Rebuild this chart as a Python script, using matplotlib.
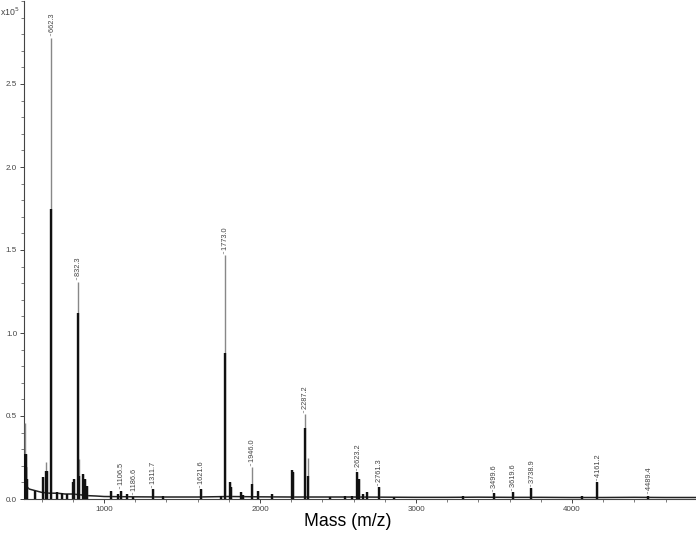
import matplotlib
matplotlib.use("Agg")
import matplotlib.pyplot as plt
from matplotlib.ticker import MultipleLocator, FixedLocator

# ---- data (intensity in units of 1e5 counts) ----
peak_mz = [493, 497, 503, 508, 558, 611, 628, 637, 662.3, 700, 730, 760,
           799, 808, 832.3, 838, 867, 880, 888, 1045, 1090, 1106.5, 1148,
           1186.6, 1311.7, 1380, 1621.6, 1752, 1773.0, 1808, 1814, 1876, 1890,
           1946.0, 1990, 2080, 2205, 2210, 2287.2, 2305, 2450, 2545, 2590,
           2623.2, 2635, 2660, 2686, 2761.3, 2860, 3300, 3499.6, 3619.6,
           3738.9, 4064, 4161.2, 4489.4]
peak_top = [0.46, 0.27, 0.19, 0.12, 0.05, 0.13, 0.22, 0.17, 2.78, 0.04, 0.035, 0.03,
            0.10, 0.12, 1.31, 0.24, 0.15, 0.12, 0.08, 0.05, 0.03, 0.05, 0.03,
            0.015, 0.06, 0.02, 0.06, 0.02, 1.47, 0.10, 0.07, 0.04, 0.025,
            0.19, 0.05, 0.03, 0.175, 0.16, 0.51, 0.25, 0.015, 0.02, 0.02,
            0.16, 0.12, 0.03, 0.04, 0.07, 0.015, 0.02, 0.035, 0.04,
            0.065, 0.02, 0.10, 0.02]
peak_core = [0.27, 0.27, 0.19, 0.12, 0.05, 0.13, 0.17, 0.17, 1.75, 0.04, 0.035, 0.03,
             0.10, 0.12, 1.12, 0.14, 0.15, 0.12, 0.08, 0.05, 0.03, 0.05, 0.03,
             0.015, 0.06, 0.02, 0.06, 0.02, 0.88, 0.10, 0.07, 0.04, 0.025,
             0.09, 0.05, 0.03, 0.175, 0.16, 0.43, 0.14, 0.015, 0.02, 0.02,
             0.16, 0.12, 0.03, 0.04, 0.07, 0.015, 0.02, 0.035, 0.04,
             0.065, 0.02, 0.10, 0.02]

base_mz = [490, 520, 560, 600, 650, 700, 750, 800, 850, 900, 950, 1000, 1100,
           1200, 1400, 1600, 1800, 2000, 2200, 2400, 2600, 2800, 3000, 3200,
           3400, 3600, 3800, 4000, 4200, 4400, 4600, 4800]
base_int = [0.09, 0.06, 0.05, 0.04, 0.035, 0.035, 0.03, 0.03, 0.025, 0.02, 0.018,
            0.015, 0.014, 0.013, 0.012, 0.012, 0.015, 0.013, 0.012, 0.012, 0.012,
            0.011, 0.010, 0.010, 0.011, 0.010, 0.010, 0.009, 0.009, 0.010,
            0.009, 0.009]

label_mz = [662.3, 832.3, 1106.5, 1186.6, 1311.7, 1621.6, 1773.0, 1946.0,
            2287.2, 2623.2, 2761.3, 3499.6, 3619.6, 3738.9, 4161.2, 4489.4]
label_txt = ["662.3", "832.3", "1106.5", "1186.6", "1311.7", "1621.6", "1773.0",
             "1946.0", "2287.2", "2623.2", "2761.3", "3499.6", "3619.6",
             "3738.9", "4161.2", "4489.4"]

x_ticks = [1000, 2000, 3000, 4000]
y_ticks = [0.0, 0.5, 1.0, 1.5, 2.0, 2.5]

plt.rcParams['font.family'] = ['Liberation Sans', 'DejaVu Sans']

fig = plt.figure(figsize=(6.96, 5.39), dpi=100)
ax = fig.add_axes([24/696, 1 - 499/539, 1 - 24/696, 498/539])

ax.plot(base_mz, base_int, color='#222222', lw=1.1, zorder=2)
ax.vlines(peak_mz, 0, peak_top, colors='#888888', lw=1.0, zorder=3)
ax.vlines(peak_mz, 0, peak_core, colors='#111111', lw=1.7, zorder=4)

top_lookup = dict(zip(peak_mz, peak_top))
for m, t in zip(label_mz, label_txt):
    ax.annotate('··' + t, xy=(m, top_lookup[m]), xytext=(0, 1),
                textcoords='offset points', rotation=90, ha='center',
                va='bottom', fontsize=5.3, color='#444444')

ax.set_xlim(487, 4795)
ax.set_ylim(0, 3.0)
ax.xaxis.set_major_locator(FixedLocator(x_ticks))
ax.xaxis.set_minor_locator(MultipleLocator(200))
ax.yaxis.set_major_locator(FixedLocator(y_ticks))
ax.yaxis.set_minor_locator(MultipleLocator(0.1))
ax.set_xticklabels([str(v) for v in x_ticks])
ax.set_yticklabels(["%.1f" % v for v in y_ticks])
ax.tick_params(axis='both', which='major', labelsize=5.8, labelcolor='#444444',
               length=3, width=0.7, color='#444444', pad=2)
ax.tick_params(axis='both', which='minor', length=2, width=0.6, color='#666666')

for s in ['top', 'right']:
    ax.spines[s].set_visible(False)
for s in ['left', 'bottom']:
    ax.spines[s].set_color('#444444')
    ax.spines[s].set_linewidth(0.8)

fig.text(0.0, 1 - 12/539, 'x10$^5$', fontsize=6.3, color='#444444',
         ha='left', va='center')
fig.text(0.5, 1 - 521/539, 'Mass (m/z)', fontsize=12.7, color='black',
         ha='center', va='center')

fig.savefig('out.png', dpi=100)
